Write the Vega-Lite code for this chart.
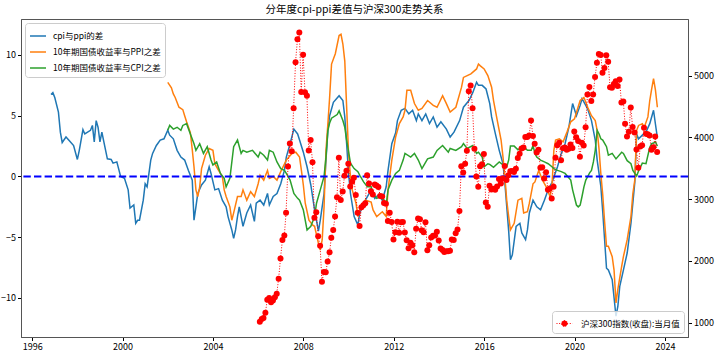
{
"$schema":"https://vega.github.io/schema/vega-lite/v6.json",
"width":667,"height":318,
"autosize":{"type":"none"},
"padding":{"left":21,"top":19,"right":27,"bottom":22},
"background":"white",
"title":{"text":"分年度cpi-ppi差值与沪深300走势关系","font":"Noto Sans CJK SC","fontSize":10.5,"fontWeight":"normal","color":"#000","offset":4},
"config":{"view":{"stroke":"#555","strokeWidth":1},
"axis":{"labelFont":"Noto Sans CJK SC","labelFontSize":9,"labelColor":"#000","tickColor":"#000","domainColor":"#555","tickSize":3.5,"labelPadding":2,"grid":false,"title":null}},
"datasets":{
"blue":[{"d":"1996-11-01","v":6.75},{"d":"1996-12-01","v":6.9},{"d":"1997-01-01","v":6.5},{"d":"1997-03-01","v":5.3},{"d":"1997-04-01","v":3.65},{"d":"1997-05-01","v":2.8},{"d":"1997-07-01","v":3.25},{"d":"1997-09-01","v":2.9},{"d":"1997-11-01","v":2.55},{"d":"1998-01-01","v":1.4},{"d":"1998-02-01","v":2.15},{"d":"1998-04-01","v":3.85},{"d":"1998-05-01","v":3.5},{"d":"1998-08-01","v":3.8},{"d":"1998-09-01","v":4.2},{"d":"1998-10-01","v":2.85},{"d":"1998-11-01","v":4.6},{"d":"1998-12-01","v":4.05},{"d":"1999-01-01","v":2.85},{"d":"1999-02-01","v":3.65},{"d":"1999-03-01","v":2.95},{"d":"1999-05-01","v":1.45},{"d":"1999-07-01","v":1.4},{"d":"1999-08-01","v":1.1},{"d":"1999-10-01","v":1.2},{"d":"1999-12-01","v":0.0},{"d":"2000-02-01","v":-0.15},{"d":"2000-04-01","v":-1.1},{"d":"2000-05-01","v":-2.6},{"d":"2000-07-01","v":-2.35},{"d":"2000-08-01","v":-3.85},{"d":"2000-09-01","v":-3.6},{"d":"2000-10-01","v":-3.6},{"d":"2000-12-01","v":-1.95},{"d":"2001-01-01","v":-0.6},{"d":"2001-02-01","v":-0.85},{"d":"2001-04-01","v":1.35},{"d":"2001-05-01","v":1.9},{"d":"2001-07-01","v":2.55},{"d":"2001-09-01","v":3.0},{"d":"2001-11-01","v":3.1},{"d":"2002-01-01","v":3.8},{"d":"2002-02-01","v":3.4},{"d":"2002-04-01","v":3.1},{"d":"2002-06-01","v":2.15},{"d":"2002-08-01","v":1.6},{"d":"2002-10-01","v":1.35},{"d":"2002-12-01","v":0.5},{"d":"2003-02-01","v":-0.3},{"d":"2003-03-01","v":-3.6},{"d":"2003-04-01","v":-2.5},{"d":"2003-05-01","v":-1.4},{"d":"2003-07-01","v":-0.7},{"d":"2003-09-01","v":-0.3},{"d":"2003-11-01","v":0.8},{"d":"2003-12-01","v":0.25},{"d":"2004-02-01","v":-1.1},{"d":"2004-04-01","v":-1.0},{"d":"2004-06-01","v":-1.95},{"d":"2004-08-01","v":-2.5},{"d":"2004-09-01","v":-3.3},{"d":"2004-11-01","v":-4.4},{"d":"2004-12-01","v":-5.1},{"d":"2005-01-01","v":-4.4},{"d":"2005-02-01","v":-3.3},{"d":"2005-03-01","v":-2.5},{"d":"2005-05-01","v":-4.1},{"d":"2005-07-01","v":-3.0},{"d":"2005-09-01","v":-2.35},{"d":"2005-11-01","v":-3.7},{"d":"2005-12-01","v":-2.2},{"d":"2006-02-01","v":-1.95},{"d":"2006-04-01","v":-2.35},{"d":"2006-06-01","v":-1.4},{"d":"2006-07-01","v":-2.35},{"d":"2006-09-01","v":-1.65},{"d":"2006-11-01","v":-1.4},{"d":"2007-01-01","v":-0.6},{"d":"2007-03-01","v":0.5},{"d":"2007-04-01","v":1.6},{"d":"2007-06-01","v":2.7},{"d":"2007-08-01","v":3.9},{"d":"2007-10-01","v":3.5},{"d":"2007-11-01","v":3.0},{"d":"2008-01-01","v":2.0},{"d":"2008-03-01","v":0.8},{"d":"2008-05-01","v":-0.7},{"d":"2008-07-01","v":-2.75},{"d":"2008-09-01","v":-4.5},{"d":"2008-10-01","v":-3.6},{"d":"2008-12-01","v":-1.4},{"d":"2009-01-01","v":1.35},{"d":"2009-02-01","v":3.8},{"d":"2009-03-01","v":5.0},{"d":"2009-05-01","v":6.1},{"d":"2009-08-01","v":6.65},{"d":"2009-10-01","v":6.25},{"d":"2009-11-01","v":4.9},{"d":"2009-12-01","v":2.7},{"d":"2010-01-01","v":0.25},{"d":"2010-02-01","v":-1.4},{"d":"2010-04-01","v":-3.3},{"d":"2010-06-01","v":-4.0},{"d":"2010-07-01","v":-3.0},{"d":"2010-10-01","v":-1.95},{"d":"2011-01-01","v":-1.1},{"d":"2011-03-01","v":-1.8},{"d":"2011-05-01","v":-1.5},{"d":"2011-07-01","v":-1.95},{"d":"2011-09-01","v":-0.85},{"d":"2011-10-01","v":0.5},{"d":"2011-12-01","v":2.7},{"d":"2012-02-01","v":3.6},{"d":"2012-03-01","v":4.6},{"d":"2012-05-01","v":5.45},{"d":"2012-07-01","v":5.6},{"d":"2012-09-01","v":5.15},{"d":"2012-11-01","v":5.45},{"d":"2013-01-01","v":4.6},{"d":"2013-02-01","v":5.15},{"d":"2013-04-01","v":4.6},{"d":"2013-06-01","v":5.15},{"d":"2013-08-01","v":4.35},{"d":"2013-10-01","v":4.9},{"d":"2013-12-01","v":4.05},{"d":"2014-02-01","v":4.5},{"d":"2014-05-01","v":3.9},{"d":"2014-07-01","v":3.25},{"d":"2014-09-01","v":3.65},{"d":"2014-12-01","v":4.6},{"d":"2015-02-01","v":5.7},{"d":"2015-05-01","v":6.25},{"d":"2015-07-01","v":6.9},{"d":"2015-09-01","v":7.75},{"d":"2015-10-01","v":7.5},{"d":"2015-12-01","v":7.5},{"d":"2016-02-01","v":7.2},{"d":"2016-04-01","v":6.0},{"d":"2016-05-01","v":4.9},{"d":"2016-07-01","v":3.5},{"d":"2016-09-01","v":2.15},{"d":"2016-11-01","v":1.05},{"d":"2016-12-01","v":-0.5},{"d":"2017-01-01","v":-2.5},{"d":"2017-02-01","v":-4.5},{"d":"2017-03-01","v":-6.85},{"d":"2017-04-01","v":-6.45},{"d":"2017-06-01","v":-4.1},{"d":"2017-08-01","v":-3.85},{"d":"2017-09-01","v":-4.65},{"d":"2017-11-01","v":-5.2},{"d":"2017-12-01","v":-4.4},{"d":"2018-01-01","v":-3.0},{"d":"2018-03-01","v":-1.95},{"d":"2018-05-01","v":-2.5},{"d":"2018-07-01","v":-2.75},{"d":"2018-09-01","v":-1.95},{"d":"2018-11-01","v":-1.1},{"d":"2019-01-01","v":-0.5},{"d":"2019-04-01","v":0.8},{"d":"2019-06-01","v":1.9},{"d":"2019-08-01","v":2.7},{"d":"2019-10-01","v":4.05},{"d":"2019-12-01","v":6.0},{"d":"2020-02-01","v":5.0},{"d":"2020-04-01","v":5.85},{"d":"2020-05-01","v":6.4},{"d":"2020-07-01","v":5.85},{"d":"2020-08-01","v":5.55},{"d":"2020-10-01","v":4.6},{"d":"2020-12-01","v":3.0},{"d":"2021-01-01","v":1.35},{"d":"2021-03-01","v":-0.8},{"d":"2021-04-01","v":-2.9},{"d":"2021-06-01","v":-7.55},{"d":"2021-07-01","v":-7.7},{"d":"2021-09-01","v":-8.5},{"d":"2021-11-01","v":-11.5},{"d":"2021-12-01","v":-10.7},{"d":"2022-01-01","v":-9.05},{"d":"2022-03-01","v":-7.7},{"d":"2022-05-01","v":-6.3},{"d":"2022-07-01","v":-3.85},{"d":"2022-09-01","v":-0.5},{"d":"2022-10-01","v":3.5},{"d":"2022-11-01","v":3.1},{"d":"2023-01-01","v":3.4},{"d":"2023-03-01","v":3.65},{"d":"2023-05-01","v":4.35},{"d":"2023-07-01","v":5.45},{"d":"2023-08-01","v":4.3},{"d":"2023-09-01","v":3.2}],
"orange":[{"d":"2002-01-01","v":7.75},{"d":"2002-03-01","v":7.3},{"d":"2002-04-01","v":6.8},{"d":"2002-05-01","v":6.5},{"d":"2002-07-01","v":5.7},{"d":"2002-09-01","v":5.5},{"d":"2002-10-01","v":5.0},{"d":"2002-11-01","v":4.5},{"d":"2003-01-01","v":3.6},{"d":"2003-02-01","v":2.2},{"d":"2003-03-01","v":0.8},{"d":"2003-04-01","v":-1.1},{"d":"2003-05-01","v":-1.65},{"d":"2003-06-01","v":-0.85},{"d":"2003-07-01","v":0.65},{"d":"2003-09-01","v":1.75},{"d":"2003-11-01","v":2.3},{"d":"2004-01-01","v":2.15},{"d":"2004-02-01","v":1.05},{"d":"2004-04-01","v":0.5},{"d":"2004-06-01","v":0.0},{"d":"2004-07-01","v":-1.1},{"d":"2004-08-01","v":-1.65},{"d":"2004-10-01","v":-2.5},{"d":"2004-11-01","v":-3.6},{"d":"2004-12-01","v":-3.0},{"d":"2005-02-01","v":-1.65},{"d":"2005-04-01","v":-1.65},{"d":"2005-05-01","v":-1.1},{"d":"2005-07-01","v":-1.95},{"d":"2005-09-01","v":-1.25},{"d":"2005-11-01","v":-1.65},{"d":"2006-01-01","v":-0.6},{"d":"2006-02-01","v":0.1},{"d":"2006-04-01","v":-0.3},{"d":"2006-06-01","v":0.5},{"d":"2006-07-01","v":-0.15},{"d":"2006-09-01","v":0.0},{"d":"2006-11-01","v":-0.3},{"d":"2007-01-01","v":0.4},{"d":"2007-04-01","v":1.35},{"d":"2007-07-01","v":1.9},{"d":"2007-09-01","v":2.0},{"d":"2007-11-01","v":1.6},{"d":"2007-12-01","v":0.5},{"d":"2008-01-01","v":-0.7},{"d":"2008-02-01","v":-2.2},{"d":"2008-04-01","v":-3.6},{"d":"2008-06-01","v":-4.0},{"d":"2008-07-01","v":-4.1},{"d":"2008-09-01","v":-5.5},{"d":"2008-10-01","v":-6.05},{"d":"2008-11-01","v":-5.2},{"d":"2008-12-01","v":-2.5},{"d":"2009-01-01","v":2.15},{"d":"2009-02-01","v":4.35},{"d":"2009-03-01","v":6.5},{"d":"2009-04-01","v":9.25},{"d":"2009-06-01","v":10.1},{"d":"2009-08-01","v":11.6},{"d":"2009-09-01","v":11.7},{"d":"2009-10-01","v":10.9},{"d":"2009-11-01","v":9.5},{"d":"2009-12-01","v":5.7},{"d":"2010-01-01","v":1.9},{"d":"2010-02-01","v":0.0},{"d":"2010-03-01","v":-1.1},{"d":"2010-05-01","v":-2.2},{"d":"2010-06-01","v":-3.3},{"d":"2010-07-01","v":-2.75},{"d":"2010-08-01","v":-2.35},{"d":"2010-10-01","v":-1.95},{"d":"2011-01-01","v":-2.1},{"d":"2011-02-01","v":-2.75},{"d":"2011-04-01","v":-3.3},{"d":"2011-07-01","v":-2.9},{"d":"2011-09-01","v":-3.3},{"d":"2011-10-01","v":-1.1},{"d":"2011-12-01","v":1.35},{"d":"2012-02-01","v":3.25},{"d":"2012-04-01","v":4.35},{"d":"2012-06-01","v":4.9},{"d":"2012-07-01","v":5.45},{"d":"2012-08-01","v":7.1},{"d":"2012-10-01","v":7.1},{"d":"2012-12-01","v":6.0},{"d":"2013-02-01","v":5.45},{"d":"2013-04-01","v":5.6},{"d":"2013-07-01","v":6.25},{"d":"2013-10-01","v":5.85},{"d":"2013-12-01","v":5.7},{"d":"2014-03-01","v":6.65},{"d":"2014-05-01","v":6.0},{"d":"2014-07-01","v":5.3},{"d":"2014-10-01","v":5.7},{"d":"2015-01-01","v":7.35},{"d":"2015-02-01","v":8.15},{"d":"2015-06-01","v":8.45},{"d":"2015-09-01","v":8.85},{"d":"2015-10-01","v":9.25},{"d":"2015-11-01","v":9.1},{"d":"2016-01-01","v":8.85},{"d":"2016-03-01","v":8.3},{"d":"2016-05-01","v":7.35},{"d":"2016-06-01","v":6.25},{"d":"2016-08-01","v":4.6},{"d":"2016-10-01","v":3.0},{"d":"2016-11-01","v":1.6},{"d":"2016-12-01","v":0.0},{"d":"2017-01-01","v":-2.0},{"d":"2017-02-01","v":-3.3},{"d":"2017-03-01","v":-4.4},{"d":"2017-05-01","v":-3.85},{"d":"2017-07-01","v":-1.95},{"d":"2017-09-01","v":-1.8},{"d":"2017-10-01","v":-3.0},{"d":"2017-12-01","v":-2.9},{"d":"2018-01-01","v":-2.2},{"d":"2018-03-01","v":-0.6},{"d":"2018-04-01","v":-0.45},{"d":"2018-06-01","v":0.5},{"d":"2018-08-01","v":-0.3},{"d":"2018-10-01","v":-0.85},{"d":"2018-12-01","v":-1.65},{"d":"2019-01-01","v":-0.85},{"d":"2019-02-01","v":2.15},{"d":"2019-03-01","v":3.0},{"d":"2019-05-01","v":3.1},{"d":"2019-07-01","v":2.85},{"d":"2019-09-01","v":3.65},{"d":"2019-11-01","v":4.5},{"d":"2020-01-01","v":4.75},{"d":"2020-04-01","v":6.25},{"d":"2020-06-01","v":6.5},{"d":"2020-08-01","v":5.7},{"d":"2020-10-01","v":5.0},{"d":"2020-12-01","v":4.6},{"d":"2021-01-01","v":3.8},{"d":"2021-02-01","v":2.2},{"d":"2021-03-01","v":0.25},{"d":"2021-04-01","v":-1.5},{"d":"2021-05-01","v":-3.7},{"d":"2021-06-01","v":-5.75},{"d":"2021-07-01","v":-5.75},{"d":"2021-09-01","v":-6.6},{"d":"2021-10-01","v":-7.7},{"d":"2021-11-01","v":-10.4},{"d":"2021-12-01","v":-9.3},{"d":"2022-02-01","v":-7.4},{"d":"2022-03-01","v":-6.6},{"d":"2022-05-01","v":-5.2},{"d":"2022-07-01","v":-3.3},{"d":"2022-08-01","v":-1.4},{"d":"2022-09-01","v":-0.3},{"d":"2022-10-01","v":3.8},{"d":"2022-11-01","v":4.2},{"d":"2023-01-01","v":4.35},{"d":"2023-02-01","v":4.05},{"d":"2023-04-01","v":4.9},{"d":"2023-05-01","v":6.25},{"d":"2023-06-01","v":7.2},{"d":"2023-07-01","v":8.05},{"d":"2023-08-01","v":7.1},{"d":"2023-09-01","v":5.7}],
"green":[{"d":"2002-01-01","v":3.8},{"d":"2002-02-01","v":4.2},{"d":"2002-04-01","v":3.9},{"d":"2002-06-01","v":4.05},{"d":"2002-08-01","v":3.8},{"d":"2002-09-01","v":4.2},{"d":"2002-11-01","v":4.35},{"d":"2003-01-01","v":3.5},{"d":"2003-03-01","v":2.7},{"d":"2003-04-01","v":2.15},{"d":"2003-06-01","v":2.7},{"d":"2003-08-01","v":1.9},{"d":"2003-10-01","v":2.45},{"d":"2003-12-01","v":1.35},{"d":"2004-01-01","v":0.95},{"d":"2004-03-01","v":1.2},{"d":"2004-05-01","v":0.25},{"d":"2004-07-01","v":-0.15},{"d":"2004-08-01","v":-0.85},{"d":"2004-10-01","v":-0.15},{"d":"2004-12-01","v":2.45},{"d":"2005-02-01","v":3.0},{"d":"2005-04-01","v":1.9},{"d":"2005-05-01","v":2.15},{"d":"2005-07-01","v":2.0},{"d":"2005-10-01","v":2.15},{"d":"2006-01-01","v":1.6},{"d":"2006-02-01","v":2.0},{"d":"2006-04-01","v":1.75},{"d":"2006-06-01","v":1.35},{"d":"2006-07-01","v":2.15},{"d":"2006-09-01","v":2.0},{"d":"2006-11-01","v":1.2},{"d":"2007-01-01","v":0.65},{"d":"2007-03-01","v":0.5},{"d":"2007-04-01","v":0.25},{"d":"2007-06-01","v":-0.3},{"d":"2007-08-01","v":-1.4},{"d":"2007-10-01","v":-1.8},{"d":"2007-11-01","v":-1.95},{"d":"2008-01-01","v":-2.75},{"d":"2008-03-01","v":-4.4},{"d":"2008-05-01","v":-4.1},{"d":"2008-07-01","v":-3.3},{"d":"2008-08-01","v":-2.2},{"d":"2008-10-01","v":-1.1},{"d":"2008-12-01","v":0.0},{"d":"2009-01-01","v":1.6},{"d":"2009-02-01","v":3.8},{"d":"2009-03-01","v":4.4},{"d":"2009-04-01","v":4.8},{"d":"2009-07-01","v":5.1},{"d":"2009-08-01","v":5.4},{"d":"2009-10-01","v":4.6},{"d":"2009-11-01","v":4.05},{"d":"2009-12-01","v":3.0},{"d":"2010-02-01","v":1.1},{"d":"2010-04-01","v":0.65},{"d":"2010-06-01","v":0.4},{"d":"2010-07-01","v":0.1},{"d":"2010-09-01","v":-0.45},{"d":"2010-11-01","v":-0.85},{"d":"2011-01-01","v":-0.85},{"d":"2011-02-01","v":-1.4},{"d":"2011-04-01","v":-1.8},{"d":"2011-06-01","v":-1.65},{"d":"2011-08-01","v":-1.95},{"d":"2011-09-01","v":-2.35},{"d":"2011-10-01","v":-1.1},{"d":"2011-12-01","v":-0.3},{"d":"2012-02-01","v":0.25},{"d":"2012-04-01","v":0.5},{"d":"2012-06-01","v":1.35},{"d":"2012-07-01","v":1.9},{"d":"2012-10-01","v":1.6},{"d":"2012-12-01","v":1.9},{"d":"2013-02-01","v":1.35},{"d":"2013-04-01","v":0.65},{"d":"2013-07-01","v":1.45},{"d":"2013-10-01","v":1.6},{"d":"2013-12-01","v":2.15},{"d":"2014-03-01","v":2.55},{"d":"2014-06-01","v":2.0},{"d":"2014-07-01","v":2.3},{"d":"2014-10-01","v":2.15},{"d":"2015-01-01","v":2.45},{"d":"2015-02-01","v":2.7},{"d":"2015-04-01","v":2.3},{"d":"2015-07-01","v":2.55},{"d":"2015-09-01","v":1.9},{"d":"2015-10-01","v":2.0},{"d":"2015-12-01","v":1.6},{"d":"2016-01-01","v":0.8},{"d":"2016-03-01","v":1.05},{"d":"2016-04-01","v":1.0},{"d":"2016-06-01","v":0.75},{"d":"2016-09-01","v":1.2},{"d":"2016-11-01","v":0.95},{"d":"2017-01-01","v":0.8},{"d":"2017-02-01","v":1.35},{"d":"2017-03-01","v":2.5},{"d":"2017-05-01","v":2.5},{"d":"2017-07-01","v":2.2},{"d":"2017-09-01","v":2.4},{"d":"2017-10-01","v":2.45},{"d":"2017-12-01","v":2.15},{"d":"2018-02-01","v":2.15},{"d":"2018-03-01","v":2.55},{"d":"2018-04-01","v":1.9},{"d":"2018-05-01","v":1.6},{"d":"2018-07-01","v":1.35},{"d":"2018-09-01","v":1.2},{"d":"2018-11-01","v":1.05},{"d":"2019-01-01","v":0.8},{"d":"2019-02-01","v":0.65},{"d":"2019-04-01","v":0.5},{"d":"2019-06-01","v":0.4},{"d":"2019-08-01","v":0.25},{"d":"2019-11-01","v":-0.3},{"d":"2019-12-01","v":-1.1},{"d":"2020-02-01","v":-2.35},{"d":"2020-03-01","v":-2.5},{"d":"2020-04-01","v":-2.35},{"d":"2020-05-01","v":-1.65},{"d":"2020-06-01","v":-0.85},{"d":"2020-07-01","v":-0.3},{"d":"2020-08-01","v":0.0},{"d":"2020-09-01","v":0.3},{"d":"2020-10-01","v":0.5},{"d":"2020-11-01","v":1.2},{"d":"2020-12-01","v":2.15},{"d":"2021-01-01","v":3.8},{"d":"2021-02-01","v":3.5},{"d":"2021-03-01","v":3.1},{"d":"2021-04-01","v":3.0},{"d":"2021-06-01","v":2.45},{"d":"2021-07-01","v":1.75},{"d":"2021-09-01","v":1.9},{"d":"2021-11-01","v":1.45},{"d":"2022-02-01","v":2.0},{"d":"2022-03-01","v":1.9},{"d":"2022-05-01","v":1.3},{"d":"2022-07-01","v":1.05},{"d":"2022-08-01","v":0.5},{"d":"2022-09-01","v":0.25},{"d":"2022-10-01","v":0.05},{"d":"2022-11-01","v":0.45},{"d":"2023-01-01","v":1.1},{"d":"2023-03-01","v":1.05},{"d":"2023-05-01","v":2.4},{"d":"2023-06-01","v":2.7},{"d":"2023-07-01","v":2.75},{"d":"2023-08-01","v":2.85},{"d":"2023-09-01","v":2.5}],
"csi":[{"d":"2006-01-28","v":1016},{"d":"2006-02-28","v":1060},{"d":"2006-03-28","v":1075},{"d":"2006-04-28","v":1160},{"d":"2006-05-28","v":1370},{"d":"2006-06-28","v":1400},{"d":"2006-07-28","v":1330},{"d":"2006-08-28","v":1360},{"d":"2006-09-28","v":1410},{"d":"2006-10-28","v":1470},{"d":"2006-11-28","v":1712},{"d":"2006-12-28","v":2041},
{"d":"2007-01-28","v":2340},{"d":"2007-02-28","v":2410},{"d":"2007-03-28","v":2781},{"d":"2007-04-28","v":3530},{"d":"2007-05-28","v":3903},{"d":"2007-06-28","v":3777},{"d":"2007-07-28","v":4471},{"d":"2007-08-28","v":5218},{"d":"2007-09-28","v":5590},{"d":"2007-10-28","v":5700},{"d":"2007-11-28","v":4737},{"d":"2007-12-28","v":5338},
{"d":"2008-01-28","v":4731},{"d":"2008-02-28","v":4674},{"d":"2008-03-28","v":3790},{"d":"2008-04-28","v":3960},{"d":"2008-05-28","v":3600},{"d":"2008-06-28","v":2700},{"d":"2008-07-28","v":2790},{"d":"2008-08-28","v":2400},{"d":"2008-09-28","v":2245},{"d":"2008-10-28","v":1663},{"d":"2008-11-28","v":1820},{"d":"2008-12-28","v":1817},
{"d":"2009-01-28","v":1990},{"d":"2009-02-28","v":2140},{"d":"2009-03-28","v":2374},{"d":"2009-04-28","v":2502},{"d":"2009-05-28","v":2720},{"d":"2009-06-28","v":3033},{"d":"2009-07-28","v":3670},{"d":"2009-08-28","v":2986},{"d":"2009-09-28","v":3125},{"d":"2009-10-28","v":3380},{"d":"2009-11-28","v":3460},{"d":"2009-12-28","v":3575},
{"d":"2010-01-28","v":3204},{"d":"2010-02-28","v":3281},{"d":"2010-03-28","v":3346},{"d":"2010-04-28","v":3067},{"d":"2010-05-28","v":2780},{"d":"2010-06-28","v":2564},{"d":"2010-07-28","v":2868},{"d":"2010-08-28","v":2903},{"d":"2010-09-28","v":2936},{"d":"2010-10-28","v":3387},{"d":"2010-11-28","v":3254},{"d":"2010-12-28","v":3128},
{"d":"2011-01-28","v":3077},{"d":"2011-02-28","v":3239},{"d":"2011-03-28","v":3223},{"d":"2011-04-28","v":3196},{"d":"2011-05-28","v":3051},{"d":"2011-06-28","v":3044},{"d":"2011-07-28","v":2937},{"d":"2011-08-28","v":2927},{"d":"2011-09-28","v":2647},{"d":"2011-10-28","v":2780},{"d":"2011-11-28","v":2630},{"d":"2011-12-28","v":2346},
{"d":"2012-01-28","v":2464},{"d":"2012-02-28","v":2635},{"d":"2012-03-28","v":2455},{"d":"2012-04-28","v":2627},{"d":"2012-05-28","v":2632},{"d":"2012-06-28","v":2462},{"d":"2012-07-28","v":2333},{"d":"2012-08-28","v":2204},{"d":"2012-09-28","v":2293},{"d":"2012-10-28","v":2254},{"d":"2012-11-28","v":2140},{"d":"2012-12-28","v":2523},
{"d":"2013-01-28","v":2686},{"d":"2013-02-28","v":2673},{"d":"2013-03-28","v":2496},{"d":"2013-04-28","v":2464},{"d":"2013-05-28","v":2627},{"d":"2013-06-28","v":2171},{"d":"2013-07-28","v":2253},{"d":"2013-08-28","v":2381},{"d":"2013-09-28","v":2409},{"d":"2013-10-28","v":2413},{"d":"2013-11-28","v":2473},{"d":"2013-12-28","v":2330},
{"d":"2014-01-28","v":2203},{"d":"2014-02-28","v":2178},{"d":"2014-03-28","v":2146},{"d":"2014-04-28","v":2158},{"d":"2014-05-28","v":2157},{"d":"2014-06-28","v":2165},{"d":"2014-07-28","v":2346},{"d":"2014-08-28","v":2338},{"d":"2014-09-28","v":2450},{"d":"2014-10-28","v":2508},{"d":"2014-11-28","v":2808},{"d":"2014-12-28","v":3533},
{"d":"2015-01-28","v":3434},{"d":"2015-02-28","v":3572},{"d":"2015-03-28","v":3786},{"d":"2015-04-28","v":4749},{"d":"2015-05-28","v":4841},{"d":"2015-06-28","v":4473},{"d":"2015-07-28","v":3816},{"d":"2015-08-28","v":3366},{"d":"2015-09-28","v":3203},{"d":"2015-10-28","v":3534},{"d":"2015-11-28","v":3566},{"d":"2015-12-28","v":3731},
{"d":"2016-01-28","v":2946},{"d":"2016-02-28","v":2877},{"d":"2016-03-28","v":3218},{"d":"2016-04-28","v":3156},{"d":"2016-05-28","v":3169},{"d":"2016-06-28","v":3154},{"d":"2016-07-28","v":3204},{"d":"2016-08-28","v":3327},{"d":"2016-09-28","v":3253},{"d":"2016-10-28","v":3336},{"d":"2016-11-28","v":3538},{"d":"2016-12-28","v":3310},
{"d":"2017-01-28","v":3387},{"d":"2017-02-28","v":3452},{"d":"2017-03-28","v":3456},{"d":"2017-04-28","v":3439},{"d":"2017-05-28","v":3493},{"d":"2017-06-28","v":3666},{"d":"2017-07-28","v":3737},{"d":"2017-08-28","v":3822},{"d":"2017-09-28","v":3837},{"d":"2017-10-28","v":4006},{"d":"2017-11-28","v":4006},{"d":"2017-12-28","v":4030},
{"d":"2018-01-28","v":4275},{"d":"2018-02-28","v":4023},{"d":"2018-03-28","v":3899},{"d":"2018-04-28","v":3756},{"d":"2018-05-28","v":3802},{"d":"2018-06-28","v":3510},{"d":"2018-07-28","v":3517},{"d":"2018-08-28","v":3335},{"d":"2018-09-28","v":3438},{"d":"2018-10-28","v":3153},{"d":"2018-11-28","v":3173},{"d":"2018-12-28","v":3011},
{"d":"2019-01-28","v":3202},{"d":"2019-02-28","v":3670},{"d":"2019-03-28","v":3872},{"d":"2019-04-28","v":3913},{"d":"2019-05-28","v":3630},{"d":"2019-06-28","v":3826},{"d":"2019-07-28","v":3836},{"d":"2019-08-28","v":3799},{"d":"2019-09-28","v":3815},{"d":"2019-10-28","v":3886},{"d":"2019-11-28","v":3829},{"d":"2019-12-28","v":4097},
{"d":"2020-01-28","v":4004},{"d":"2020-02-28","v":3941},{"d":"2020-03-28","v":3687},{"d":"2020-04-28","v":3913},{"d":"2020-05-28","v":3868},{"d":"2020-06-28","v":4164},{"d":"2020-07-28","v":4695},{"d":"2020-08-28","v":4816},{"d":"2020-09-28","v":4588},{"d":"2020-10-28","v":4695},{"d":"2020-11-28","v":4980},{"d":"2020-12-28","v":5211},
{"d":"2021-01-28","v":5352},{"d":"2021-02-28","v":5336},{"d":"2021-03-28","v":5049},{"d":"2021-04-28","v":5124},{"d":"2021-05-28","v":5332},{"d":"2021-06-28","v":5224},{"d":"2021-07-28","v":4812},{"d":"2021-08-28","v":4806},{"d":"2021-09-28","v":4866},{"d":"2021-10-28","v":4908},{"d":"2021-11-28","v":4833},{"d":"2021-12-28","v":4940},
{"d":"2022-01-28","v":4564},{"d":"2022-02-28","v":4581},{"d":"2022-03-28","v":4223},{"d":"2022-04-28","v":4016},{"d":"2022-05-28","v":4091},{"d":"2022-06-28","v":4485},{"d":"2022-07-28","v":4170},{"d":"2022-08-28","v":4079},{"d":"2022-09-28","v":3805},{"d":"2022-10-28","v":3509},{"d":"2022-11-28","v":3854},{"d":"2022-12-28","v":3872},
{"d":"2023-01-28","v":4156},{"d":"2023-02-28","v":4061},{"d":"2023-03-28","v":4051},{"d":"2023-04-28","v":4030},{"d":"2023-05-28","v":3799},{"d":"2023-06-28","v":3842},{"d":"2023-07-28","v":4015},{"d":"2023-08-28","v":3765}]
},
"layer":[
{"layer":[
{"data":{"name":"blue"},"mark":{"type":"line","strokeWidth":1.5},
"encoding":{"x":{"field":"d","type":"temporal","scale":{"domain":[{"year":1995,"month":7,"date":5},{"year":2025,"month":1,"date":8}]},"axis":{"format":"%Y","tickCount":{"interval":"year","step":4}}},
"y":{"field":"v","type":"quantitative","scale":{"domain":[-13.21,12.96],"nice":false,"zero":false},"axis":{"values":[-10,-5,0,5,10],"orient":"left"}},
"color":{"datum":"cpi与ppi的差","type":"nominal","scale":{"domain":["cpi与ppi的差","10年期国债收益率与PPI之差","10年期国债收益率与CPI之差"],"range":["#1f77b4","#ff7f0e","#2ca02c"]},
"legend":{"orient":"top-left","offset":4,"title":null,"symbolType":"stroke","symbolSize":256,"symbolStrokeWidth":1.5,"labelFont":"Noto Sans CJK SC","labelFontSize":8.5,"labelColor":"#000","fillColor":"rgba(255,255,255,0.8)","strokeColor":"#cccccc","cornerRadius":3,"padding":4,"rowPadding":2,"labelOffset":6}}}},
{"data":{"name":"orange"},"mark":{"type":"line","strokeWidth":1.5},
"encoding":{"x":{"field":"d","type":"temporal"},"y":{"field":"v","type":"quantitative"},"color":{"datum":"10年期国债收益率与PPI之差","type":"nominal"}}},
{"data":{"name":"green"},"mark":{"type":"line","strokeWidth":1.5},
"encoding":{"x":{"field":"d","type":"temporal"},"y":{"field":"v","type":"quantitative"},"color":{"datum":"10年期国债收益率与CPI之差","type":"nominal"}}},
{"data":{"values":[{"v":0}]},"mark":{"type":"rule","color":"#0000ff","strokeWidth":2,"strokeDash":[7.4,3.2]},
"encoding":{"y":{"field":"v","type":"quantitative"}}}
]},
{"data":{"name":"csi"},"mark":{"type":"line","strokeWidth":1,"strokeDash":[1,1.65],"point":{"filled":true,"size":36}},
"encoding":{"x":{"field":"d","type":"temporal"},
"y":{"field":"v","type":"quantitative","scale":{"domain":[768,5918],"nice":false,"zero":false},"axis":{"values":[1000,2000,3000,4000,5000],"format":"d","orient":"right"}},
"color":{"datum":"沪深300指数(收盘):当月值","type":"nominal","scale":{"range":["#ff0000"]},
"legend":{"orient":"bottom-right","offset":4,"title":null,"symbolType":"M-1,0H1M0.375,0A0.375,0.375 0 1,1 -0.375,0A0.375,0.375 0 1,1 0.375,0Z","symbolSize":256,"symbolStrokeWidth":1,"symbolDash":[1,1.65],"symbolFillColor":"#ff0000","symbolStrokeColor":"#ff0000","labelFont":"Noto Sans CJK SC","labelFontSize":8.5,"labelColor":"#000","fillColor":"rgba(255,255,255,0.8)","strokeColor":"#cccccc","cornerRadius":3,"padding":4,"labelOffset":8}}}}
],
"resolve":{"scale":{"y":"independent","color":"independent"}}
}
